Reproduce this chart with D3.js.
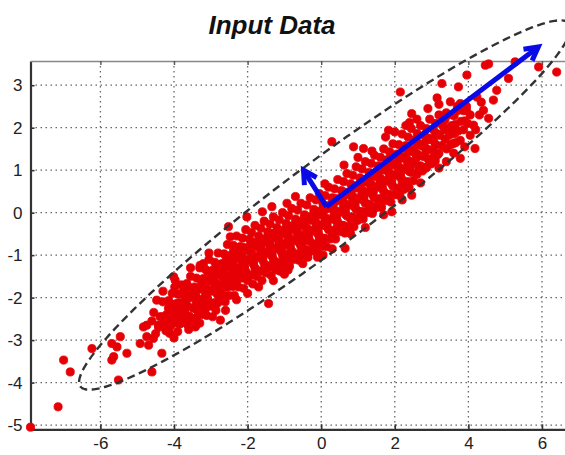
<!DOCTYPE html>
<html>
<head>
<meta charset="utf-8">
<script src="https://cdn.jsdelivr.net/npm/d3@7/dist/d3.min.js"></script>
<style>
  html, body { margin: 0; padding: 0; background: #fff; }
  svg { display: block; }
</style>
</head>
<body>
<svg id="chart" width="565" height="455"></svg>
<script>
// ---- data ----------------------------------------------------------
const titleText = "Input Data";
const xTicks = [-6, -4, -2, 0, 2, 4, 6];
const yTicks = [-5, -4, -3, -2, -1, 0, 1, 2, 3];
const xDomain = [-7.9, 6.68];
const yDomain = [-5.1, 3.57];

// scattered samples far from the main cloud
const outerPoints = [
  [-7.9,-5.05],[-7.15,-4.57],[-7.0,-3.47],[-6.82,-3.75],[-6.23,-3.2],[-5.69,-3.08],
  [-5.46,-2.92],[-5.55,-3.16],[-5.64,-3.39],[-5.69,-3.47],[-5.28,-3.31],[-5.51,-3.94],
  [-4.6,-3.75],[-4.33,-3.31],[-4.92,-3.08],[-4.69,-3.12],[-4.83,-2.69],[-4.74,-2.65],
  [-4.56,-2.96],[-4.42,-2.65],[-4.47,-2.06],[-4.19,-2.53],[-4.15,-2.8],[-4.01,-1.51],
  [-3.97,-1.59],[-3.92,-2.14],[-3.83,-2.37],[-3.65,-1.67],[-3.56,-1.98],[-3.42,-2.69],
  [-3.38,-2.29],[-3.29,-1.24],[-3.11,-1.82],[-2.93,-1.43],[-2.83,-2.14],[-2.74,-2.53],
  [-2.56,-1.75],[-2.38,-0.88],[-2.47,-0.57],[-2.52,-0.33],[-1.43,-2.14],[-2.02,-0.1],
  [-1.34,0.14],[-0.93,0.22],[0.29,1.67],[0.65,-0.84],[0.88,1.55],[1.15,1.51],
  [1.83,1.94],[2.15,2.84],[2.46,2.33],[3.28,3.04],[3.51,2.61],[3.73,2.96],
  [3.96,3.24],[4.46,3.47],[4.55,3.5],[5.09,3.16],[4.77,2.88],[4.68,2.65],
  [5.91,3.43],[6.4,3.31],[4.41,2.41],[4.55,2.22],[4.14,2.06],[4.05,1.82],
  [4.18,1.51],[3.78,1.28],[3.6,1.63],[3.05,1.31],[2.87,1.08],[2.46,0.41],
  [1.92,0.02],[4.23,2.72],[3.78,2.57],[5.27,3.55],[-4.74,-2.92],[-3.2,-1.2],
  [-1.3,-0.49],[-1.2,-1.35],[-1.66,-0.8]
];

// dense central band of samples
const corePoints = [
  [-4.55,-2.35],[-4.42,-2.7],[-4.6,-2.55],[-4.38,-2.45],[-4.5,-2.85],
  [-4.3,-2.1],[-4.2,-2.4],[-4.28,-2.62],[-4.15,-2.25],[-4.22,-2.78],[-4.33,-2.45],
  [-4.05,-1.9],[-3.95,-2.15],[-4.02,-2.4],[-3.92,-2.6],[-4.1,-2.2],[-3.98,-1.75],[-4.06,-2.55],
  [-3.8,-1.7],[-3.72,-1.95],[-3.78,-2.2],[-3.7,-2.45],[-3.82,-2.6],[-3.68,-2.1],[-3.75,-1.85],
  [-3.55,-1.5],[-3.45,-1.75],[-3.52,-2.0],[-3.48,-2.25],[-3.58,-2.45],[-3.42,-1.9],[-3.5,-2.55],[-3.4,-2.15],
  [-3.3,-1.3],[-3.2,-1.55],[-3.28,-1.8],[-3.22,-2.05],[-3.3,-2.3],[-3.18,-1.7],[-3.25,-2.4],[-3.15,-1.95],
  [-3.05,-1.1],[-2.95,-1.35],[-3.02,-1.6],[-2.98,-1.85],[-3.06,-2.1],[-2.92,-1.5],[-3.0,-2.2],[-2.9,-1.75],[-3.08,-1.4],
  [-2.8,-0.95],[-2.7,-1.2],[-2.78,-1.45],[-2.72,-1.7],[-2.8,-1.95],[-2.66,-1.35],[-2.75,-2.08],[-2.65,-1.6],[-2.85,-1.25],
  [-2.55,-0.75],[-2.45,-1.0],[-2.52,-1.25],[-2.48,-1.5],[-2.55,-1.75],[-2.42,-1.15],[-2.5,-1.95],[-2.4,-1.4],[-2.58,-1.05],[-2.46,-1.65],
  [-2.3,-0.55],[-2.2,-0.8],[-2.28,-1.05],[-2.22,-1.3],[-2.3,-1.55],[-2.16,-0.95],[-2.25,-1.75],[-2.14,-1.2],[-2.34,-0.9],[-2.2,-1.45],
  [-2.05,-0.4],[-1.95,-0.62],[-2.02,-0.88],[-1.98,-1.12],[-2.05,-1.38],[-1.92,-0.75],[-2.0,-1.6],[-1.9,-1.0],[-2.08,-1.25],[-1.96,-1.5],
  [-1.8,-0.3],[-1.7,-0.55],[-1.78,-0.8],[-1.72,-1.05],[-1.8,-1.3],[-1.66,-0.68],[-1.75,-1.5],[-1.65,-0.95],[-1.84,-1.15],[-1.7,-1.4],
  [-1.55,-0.2],[-1.45,-0.45],[-1.52,-0.7],[-1.48,-0.95],[-1.55,-1.2],[-1.42,-0.6],[-1.5,-1.42],[-1.4,-0.85],[-1.58,-1.05],[-1.46,-1.3],
  [-1.3,-0.1],[-1.2,-0.35],[-1.28,-0.6],[-1.22,-0.85],[-1.3,-1.1],[-1.16,-0.5],[-1.25,-1.32],[-1.15,-0.75],[-1.34,-0.95],[-1.2,-1.2],
  [-1.05,0.0],[-0.95,-0.25],[-1.02,-0.5],[-0.98,-0.75],[-1.05,-1.0],[-0.92,-0.4],[-1.0,-1.22],[-0.9,-0.65],[-1.08,-0.85],[-0.96,-1.1],
  [-0.8,0.1],[-0.7,-0.15],[-0.78,-0.4],[-0.72,-0.65],[-0.8,-0.9],[-0.66,-0.3],[-0.75,-1.1],[-0.65,-0.55],[-0.84,-0.75],[-0.7,-1.0],
  [-0.55,0.22],[-0.45,-0.05],[-0.52,-0.3],[-0.48,-0.55],[-0.55,-0.8],[-0.42,-0.2],[-0.5,-1.0],[-0.4,-0.45],[-0.58,-0.65],[-0.46,-0.9],
  [-0.3,0.35],[-0.2,0.08],[-0.28,-0.18],[-0.22,-0.43],[-0.3,-0.68],[-0.16,-0.1],[-0.25,-0.9],[-0.15,-0.35],[-0.34,-0.55],[-0.2,-0.8],
  [-0.05,0.45],[0.05,0.2],[-0.02,-0.05],[0.02,-0.3],[-0.05,-0.55],[0.08,0.05],[0.0,-0.8],[0.1,-0.2],[-0.08,-0.45],[0.04,-0.7],
  [0.2,0.6],[0.3,0.35],[0.22,0.1],[0.28,-0.15],[0.2,-0.4],[0.34,0.22],[0.25,-0.62],[0.35,-0.05],[0.16,-0.28],[0.3,-0.5],
  [0.45,0.78],[0.55,0.52],[0.48,0.28],[0.52,0.02],[0.45,-0.22],[0.6,0.4],[0.5,-0.45],[0.6,0.12],[0.42,-0.1],[0.56,-0.3],
  [0.7,0.92],[0.8,0.68],[0.72,0.42],[0.78,0.18],[0.7,-0.08],[0.84,0.55],[0.75,-0.32],[0.85,0.28],[0.66,0.05],[0.8,-0.15],
  [0.95,1.08],[1.05,0.82],[0.98,0.58],[1.02,0.32],[0.95,0.08],[1.1,0.7],[1.0,-0.18],[1.1,0.42],[0.92,0.2],[1.06,-0.02],
  [1.2,1.2],[1.3,0.95],[1.22,0.72],[1.28,0.48],[1.2,0.22],[1.35,0.85],[1.25,0.0],[1.35,0.58],[1.16,0.35],[1.3,0.12],
  [1.45,1.35],[1.55,1.1],[1.48,0.85],[1.52,0.6],[1.45,0.35],[1.6,1.0],[1.5,0.12],[1.6,0.72],[1.42,0.5],[1.56,0.25],
  [1.7,1.5],[1.8,1.25],[1.72,1.0],[1.78,0.75],[1.7,0.5],[1.85,1.12],[1.75,0.28],[1.85,0.85],[1.66,0.62],[1.8,0.4],
  [1.95,1.62],[2.05,1.38],[1.98,1.12],[2.02,0.88],[1.95,0.62],[2.1,1.25],[2.0,0.42],[2.1,0.98],[1.92,0.75],[2.06,0.55],
  [2.2,1.85],[2.3,1.58],[2.22,1.3],[2.28,1.02],[2.2,0.78],[2.35,1.42],[2.25,0.55],[2.35,1.12],[2.16,0.92],[2.3,2.05],
  [2.45,1.98],[2.55,1.72],[2.48,1.45],[2.52,1.2],[2.45,0.95],[2.6,1.58],[2.5,0.75],[2.6,1.3],[2.42,1.1],
  [2.7,2.05],[2.8,1.82],[2.72,1.58],[2.78,1.32],[2.7,1.1],[2.85,1.7],[2.75,0.98],[2.85,1.45],
  [2.95,2.2],[3.05,1.95],[2.98,1.72],[3.02,1.48],[2.95,1.25],[3.1,1.85],[3.0,1.15],[3.1,1.6],
  [3.2,2.3],[3.3,2.05],[3.22,1.82],[3.28,1.58],[3.2,1.4],[3.35,1.95],
  [3.45,2.3],[3.55,2.05],[3.48,1.82],[3.52,1.6],[3.6,1.95],
  [3.7,2.4],[3.8,2.15],[3.72,1.92],[3.78,1.7],
  [3.95,2.5],[4.05,2.3],[3.98,2.1]
];

// second pass of the central band, between the first one's samples
const corePointsB = [
  [-4.14,-2.07],[-4.1,-2.27],[-4.13,-2.47],[-4.09,-2.67],[-4.12,-2.84],
  [-3.89,-1.92],[-3.85,-2.12],[-3.88,-2.42],[-3.84,-2.62],[-3.9,-2.8],
  [-3.64,-1.74],[-3.6,-1.94],[-3.63,-2.2],[-3.59,-2.44],[-3.65,-2.62],
  [-3.39,-1.54],[-3.35,-1.77],[-3.38,-2.0],[-3.34,-2.22],[-3.4,-2.47],[-3.36,-2.6],
  [-3.14,-1.34],[-3.1,-1.57],[-3.13,-1.77],[-3.09,-2.02],[-3.15,-2.27],[-3.11,-2.42],
  [-2.89,-1.17],[-2.85,-1.4],[-2.88,-1.64],[-2.84,-1.9],[-2.9,-2.12],[-2.86,-2.3],
  [-2.64,-0.97],[-2.6,-1.22],[-2.63,-1.44],[-2.59,-1.67],[-2.65,-1.94],[-2.61,-2.1],
  [-2.39,-0.77],[-2.35,-1.02],[-2.38,-1.24],[-2.34,-1.5],[-2.4,-1.74],[-2.36,-1.95],
  [-2.14,-0.6],[-2.1,-0.82],[-2.13,-1.07],[-2.09,-1.3],[-2.15,-1.54],[-2.11,-1.78],
  [-1.89,-0.47],[-1.85,-0.7],[-1.88,-0.97],[-1.84,-1.22],[-1.9,-1.47],[-1.86,-1.68],
  [-1.64,-0.37],[-1.6,-0.62],[-1.63,-0.87],[-1.59,-1.12],[-1.65,-1.37],[-1.61,-1.6],
  [-1.39,-0.27],[-1.35,-0.52],[-1.38,-0.77],[-1.34,-1.02],[-1.4,-1.27],[-1.36,-1.48],
  [-1.14,-0.17],[-1.1,-0.42],[-1.13,-0.67],[-1.09,-0.92],[-1.15,-1.17],[-1.11,-1.38],
  [-0.89,-0.07],[-0.85,-0.32],[-0.88,-0.57],[-0.84,-0.82],[-0.9,-1.07],[-0.86,-1.26],
  [-0.64,0.06],[-0.6,-0.2],[-0.63,-0.47],[-0.59,-0.72],[-0.65,-0.97],[-0.61,-1.12],
  [-0.39,0.18],[-0.35,-0.1],[-0.38,-0.37],[-0.34,-0.62],[-0.4,-0.87],[-0.36,-1.05],
  [-0.14,0.3],[-0.1,0.03],[-0.13,-0.24],[-0.09,-0.5],[-0.15,-0.74],[-0.11,-0.95],
  [0.11,0.4],[0.15,0.16],[0.12,-0.12],[0.16,-0.34],[0.1,-0.6],[0.14,-0.8],
  [0.36,0.56],[0.4,0.33],[0.37,0.06],[0.41,-0.2],[0.35,-0.44],[0.39,-0.62],
  [0.61,0.73],[0.65,0.48],[0.62,0.23],[0.66,-0.04],[0.6,-0.3],[0.64,-0.48],
  [0.86,0.88],[0.9,0.63],[0.87,0.38],[0.91,0.13],[0.85,-0.12],[0.89,-0.33],
  [1.11,1.03],[1.15,0.78],[1.12,0.53],[1.16,0.28],[1.1,0.03],[1.14,-0.15],
  [1.36,1.16],[1.4,0.9],[1.37,0.66],[1.41,0.4],[1.35,0.16],[1.39,-0.02],
  [1.61,1.3],[1.65,1.06],[1.62,0.8],[1.66,0.56],[1.6,0.33],[1.64,0.12],
  [1.86,1.43],[1.9,1.18],[1.87,0.93],[1.91,0.68],[1.85,0.43],[1.89,0.25],
  [2.11,1.6],[2.15,1.33],[2.12,1.08],[2.16,0.83],[2.1,0.58],[2.14,0.4],
  [2.36,1.78],[2.4,1.5],[2.37,1.23],[2.41,0.96],[2.35,0.73],[2.39,0.58],
  [2.61,1.86],[2.65,1.63],[2.62,1.38],[2.66,1.1],[2.6,0.9],
  [2.86,1.98],[2.9,1.76],[2.87,1.5],[2.91,1.26],[2.85,1.05],
  [3.11,2.1],[3.15,1.86],[3.12,1.6],[3.16,1.36],[3.1,1.22],
  [3.36,2.18],[3.4,1.98],[3.37,1.73],[3.41,1.5],
  [3.61,2.28],[3.65,2.08],[3.62,1.86],[3.66,1.65],
  [3.86,2.4],[3.9,2.16],[3.87,1.95]
];

// irregular samples along the rim and inside of the band
const rimPoints = [
  [0.62,1.12],[1.0,1.3],[1.38,1.45],[1.75,1.78],[2.0,1.9],[2.4,2.12],[2.6,2.2],
  [3.2,2.55],[3.4,2.35],[3.7,2.5],[3.95,2.4],[4.3,2.3],[4.2,1.95],[3.9,1.55],
  [3.4,1.2],[3.6,1.4],[4.35,2.6],[3.15,2.7],[2.9,2.45],
  [-3.3,-2.6],[-2.95,-2.45],[-2.6,-2.3],[-2.3,-2.05],[-2.0,-1.9],[-1.7,-1.75],
  [-1.3,-1.6],[-0.9,-1.35],[-0.5,-1.2],[-0.1,-1.05],[0.3,-0.85],[0.8,-0.5],
  [1.2,-0.35],[1.7,-0.05],[2.2,0.3],[2.7,0.7],[3.2,1.05],
  [-3.9,-2.28],[-3.6,-1.9],[-3.25,-1.62],[-2.95,-1.62],[-2.7,-1.5],[-2.45,-1.3],
  [-2.2,-1.1],[-1.95,-0.82],[-1.7,-0.72],[-1.45,-0.55],[-1.2,-0.45],[-0.95,-0.35],
  [-0.7,-0.25],[-0.45,-0.1],[-0.2,0.0],[0.05,0.1],[0.3,0.25],[0.55,0.35],
  [0.8,0.5],[1.05,0.6],[1.3,0.7],[1.55,0.85],[1.8,1.0],[2.05,1.1],[2.3,1.25],
  [2.55,1.4],[2.8,1.55],[3.05,1.7],
  [-3.7,-2.35],[-3.2,-2.15],[-2.75,-1.85],[-2.3,-1.65],[-1.85,-1.45],[-1.4,-1.25],
  [-0.95,-0.98],[-0.5,-0.7],[-0.05,-0.62],[0.4,-0.38],[0.85,-0.1],[1.3,0.2],
  [1.75,0.45],[2.2,0.72],[2.65,1.05],[3.1,1.35],
  [-3.55,-1.3],[-3.05,-0.95],[-1.6,0.02],[-0.7,0.38],[0.1,0.68],[-4.3,-1.85],
  [-4.0,-2.95],[-3.6,-2.75],[-1.0,-1.45],[0.05,-1.0]
];

// covariance ellipse: centre, semi-axes and tilt (degrees, data space)
const ellipseCenter = [0.1, 0.18];
const ellipseAxes = [7.9, 1.05];
const ellipseAngle = 32.6;

// principal directions drawn from the mean
const arrowOrigin = [0.14, 0.14];
const arrowTips = [[5.9, 3.9], [-0.48, 1.0]];

// ---- layout --------------------------------------------------------
const svg = d3.select("#chart");
const plotLeft = 30.5, plotRight = 567, plotTop = 61, plotBottom = 429.3;

const x = d3.scaleLinear().domain(xDomain).range([plotLeft, plotRight]);
const y = d3.scaleLinear().domain(yDomain).range([plotBottom, plotTop]);

// title
svg.append("text")
  .attr("x", 272).attr("y", 34)
  .attr("text-anchor", "middle")
  .attr("font-family", "'Liberation Sans', Arial, sans-serif")
  .attr("font-size", 26).attr("font-weight", "bold").attr("font-style", "italic")
  .attr("fill", "#111")
  .text(titleText);

// dotted grid
const grid = svg.append("g").attr("stroke", "#666").attr("stroke-width", 1.3)
  .attr("stroke-dasharray", "1.5,3.5");
grid.selectAll("line.gx").data(xTicks).join("line").attr("class", "gx")
  .attr("x1", d => x(d)).attr("x2", d => x(d))
  .attr("y1", plotTop).attr("y2", plotBottom);
grid.selectAll("line.gy").data(yTicks).join("line").attr("class", "gy")
  .attr("x1", plotLeft).attr("x2", plotRight)
  .attr("y1", d => y(d)).attr("y2", d => y(d));

// axes: ticks inward, box-style frame on top
const fontFam = "'Liberation Sans', Arial, sans-serif";
const xAxis = svg.append("g").attr("transform", `translate(0,${plotBottom})`)
  .call(d3.axisBottom(x).tickValues(xTicks).tickSizeInner(-5).tickSizeOuter(0).tickPadding(8)
    .tickFormat(d => String(d)));
const yAxis = svg.append("g").attr("transform", `translate(${plotLeft},0)`)
  .call(d3.axisLeft(y).tickValues(yTicks).tickSizeInner(-4).tickSizeOuter(0).tickPadding(8)
    .tickFormat(d => String(d)));
const xTop = svg.append("g").attr("transform", `translate(0,${plotTop})`)
  .call(d3.axisTop(x).tickValues(xTicks).tickSizeInner(-4).tickSizeOuter(0).tickFormat(""));

[xAxis, yAxis].forEach(g => {
  g.select(".domain").attr("stroke", "#333").attr("stroke-width", 2.2);
  g.selectAll(".tick line").attr("stroke", "#333").attr("stroke-width", 1.6);
  g.selectAll(".tick text").attr("font-family", fontFam).attr("font-size", 17)
    .attr("fill", "#222");
});
xTop.select(".domain").attr("stroke", "#888").attr("stroke-width", 1.6);
xTop.selectAll(".tick line").attr("stroke", "#555").attr("stroke-width", 1.4);

// samples (a thin same-colour outline closes anti-aliasing seams between markers)
const allPoints = outerPoints.concat(corePoints, corePointsB, rimPoints);
svg.append("g").attr("fill", "#e60005").attr("stroke", "#e60005").attr("stroke-width", 0.8)
  .selectAll("circle").data(allPoints).join("circle")
  .attr("cx", d => x(d[0])).attr("cy", d => y(d[1])).attr("r", 4.1);

// dashed ellipse traced in data space
const th = ellipseAngle * Math.PI / 180;
const ellipsePts = d3.range(0, 360, 2).map(deg => {
  const t = deg * Math.PI / 180;
  const a = ellipseAxes[0] * Math.cos(t), b = ellipseAxes[1] * Math.sin(t);
  return [ellipseCenter[0] + a * Math.cos(th) - b * Math.sin(th),
          ellipseCenter[1] + a * Math.sin(th) + b * Math.cos(th)];
});
svg.append("path")
  .datum(ellipsePts)
  .attr("d", d3.line().x(d => x(d[0])).y(d => y(d[1])).curve(d3.curveCardinalClosed))
  .attr("fill", "none").attr("stroke", "#333").attr("stroke-width", 2.4)
  .attr("stroke-dasharray", "8,4.5");

// principal-direction arrows
const arrows = svg.append("g").attr("stroke", "#0a0ae6").attr("stroke-width", 5)
  .attr("fill", "none").attr("stroke-linecap", "butt").attr("stroke-linejoin", "miter");
arrowTips.forEach(tip => {
  const x0 = x(arrowOrigin[0]), y0 = y(arrowOrigin[1]);
  const x1 = x(tip[0]), y1 = y(tip[1]);
  const ang = Math.atan2(y1 - y0, x1 - x0);
  const hl = 15, spread = 0.5;
  const h1 = [x1 - hl * Math.cos(ang - spread), y1 - hl * Math.sin(ang - spread)];
  const h2 = [x1 - hl * Math.cos(ang + spread), y1 - hl * Math.sin(ang + spread)];
  arrows.append("path").attr("d", `M${x0},${y0}L${x1},${y1}`);
  arrows.append("path").attr("d", `M${h1[0]},${h1[1]}L${x1},${y1}L${h2[0]},${h2[1]}`);
});
</script>
</body>
</html>
